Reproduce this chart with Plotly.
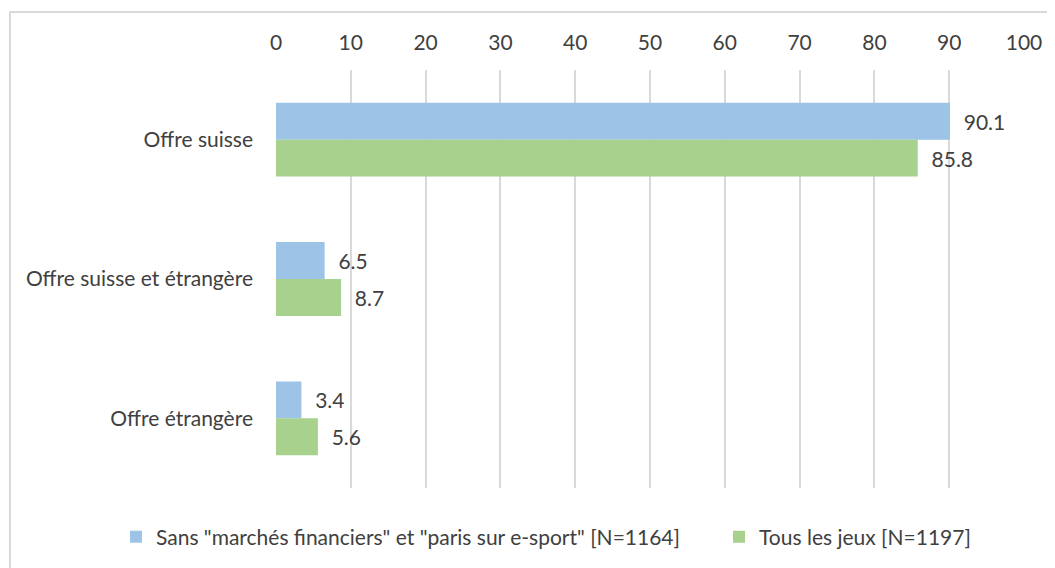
import plotly.graph_objects as go

categories = ["Offre suisse", "Offre suisse et étrangère", "Offre étrangère"]
series_names = ['Sans "marchés financiers" et "paris sur e-sport" [N=1164]', "Tous les jeux [N=1197]"]
values_sans = [90.1, 6.5, 3.4]
values_tous = [85.8, 8.7, 5.6]
tick_vals = [0, 10, 20, 30, 40, 50, 60, 70, 80, 90, 100]

FONT = "Lato, 'Open Sans', sans-serif"
TXT = "#404040"
FS = 21
PAD = "\u00a0\u00a0"

# page body has an 8px margin, so the figure is drawn 8px smaller/offset
W, H = 1047, 560
L, R, T, B = 268, 31, 62, 80
PW = W - L - R
PH = H - T - B

fig = go.Figure()
fig.add_trace(go.Bar(
    y=categories, x=values_sans, name=series_names[0], orientation="h",
    marker=dict(color="#9DC3E6", line=dict(width=0)),
    text=[f"{PAD}{v:.1f}" for v in values_sans], textposition="outside",
    textfont=dict(size=FS, color=TXT, family=FONT), cliponaxis=False,
    legend="legend",
))
fig.add_trace(go.Bar(
    y=categories, x=values_tous, name=series_names[1], orientation="h",
    marker=dict(color="#A9D18E", line=dict(width=0)),
    text=[f"{PAD}{v:.1f}" for v in values_tous], textposition="outside",
    textfont=dict(size=FS, color=TXT, family=FONT), cliponaxis=False,
    legend="legend2",
))

leg_common = dict(orientation="h", xanchor="left", y=(488 - 537) / PH, yanchor="middle",
                  font=dict(size=FS, color=TXT, family=FONT), bgcolor="rgba(0,0,0,0)")

fig.update_layout(
    width=W, height=H,
    margin=dict(l=L, r=R, t=T, b=B, autoexpand=False),
    paper_bgcolor="white", plot_bgcolor="white",
    barmode="group", bargap=0.47, bargroupgap=0,
    font=dict(family=FONT, size=FS, color=TXT),
    showlegend=True,
    legend=dict(x=(116 - 276) / PW, **leg_common),
    legend2=dict(x=(719 - 276) / PW, **leg_common),
    xaxis=dict(range=[0, 100], side="top", tickvals=tick_vals, showgrid=True,
               gridcolor="#D9D9D9", gridwidth=2, zeroline=False, showline=False,
               tickfont=dict(size=FS, color=TXT, family=FONT), ticks="", ticklabelstandoff=15),
    yaxis=dict(autorange="reversed", showgrid=False, showline=False, zeroline=False,
               ticks="", tickfont=dict(size=FS, color=TXT, family=FONT), ticklabelstandoff=22),
    shapes=[dict(type="rect", xref="paper", yref="paper",
                 x0=(10 - 276) / PW, x1=(1070 - 276) / PW,
                 y0=(488 - 580) / PH, y1=(488 - 12) / PH,
                 line=dict(color="#D9D9D9", width=2), layer="below")],
)

fig.write_html("out.html")
